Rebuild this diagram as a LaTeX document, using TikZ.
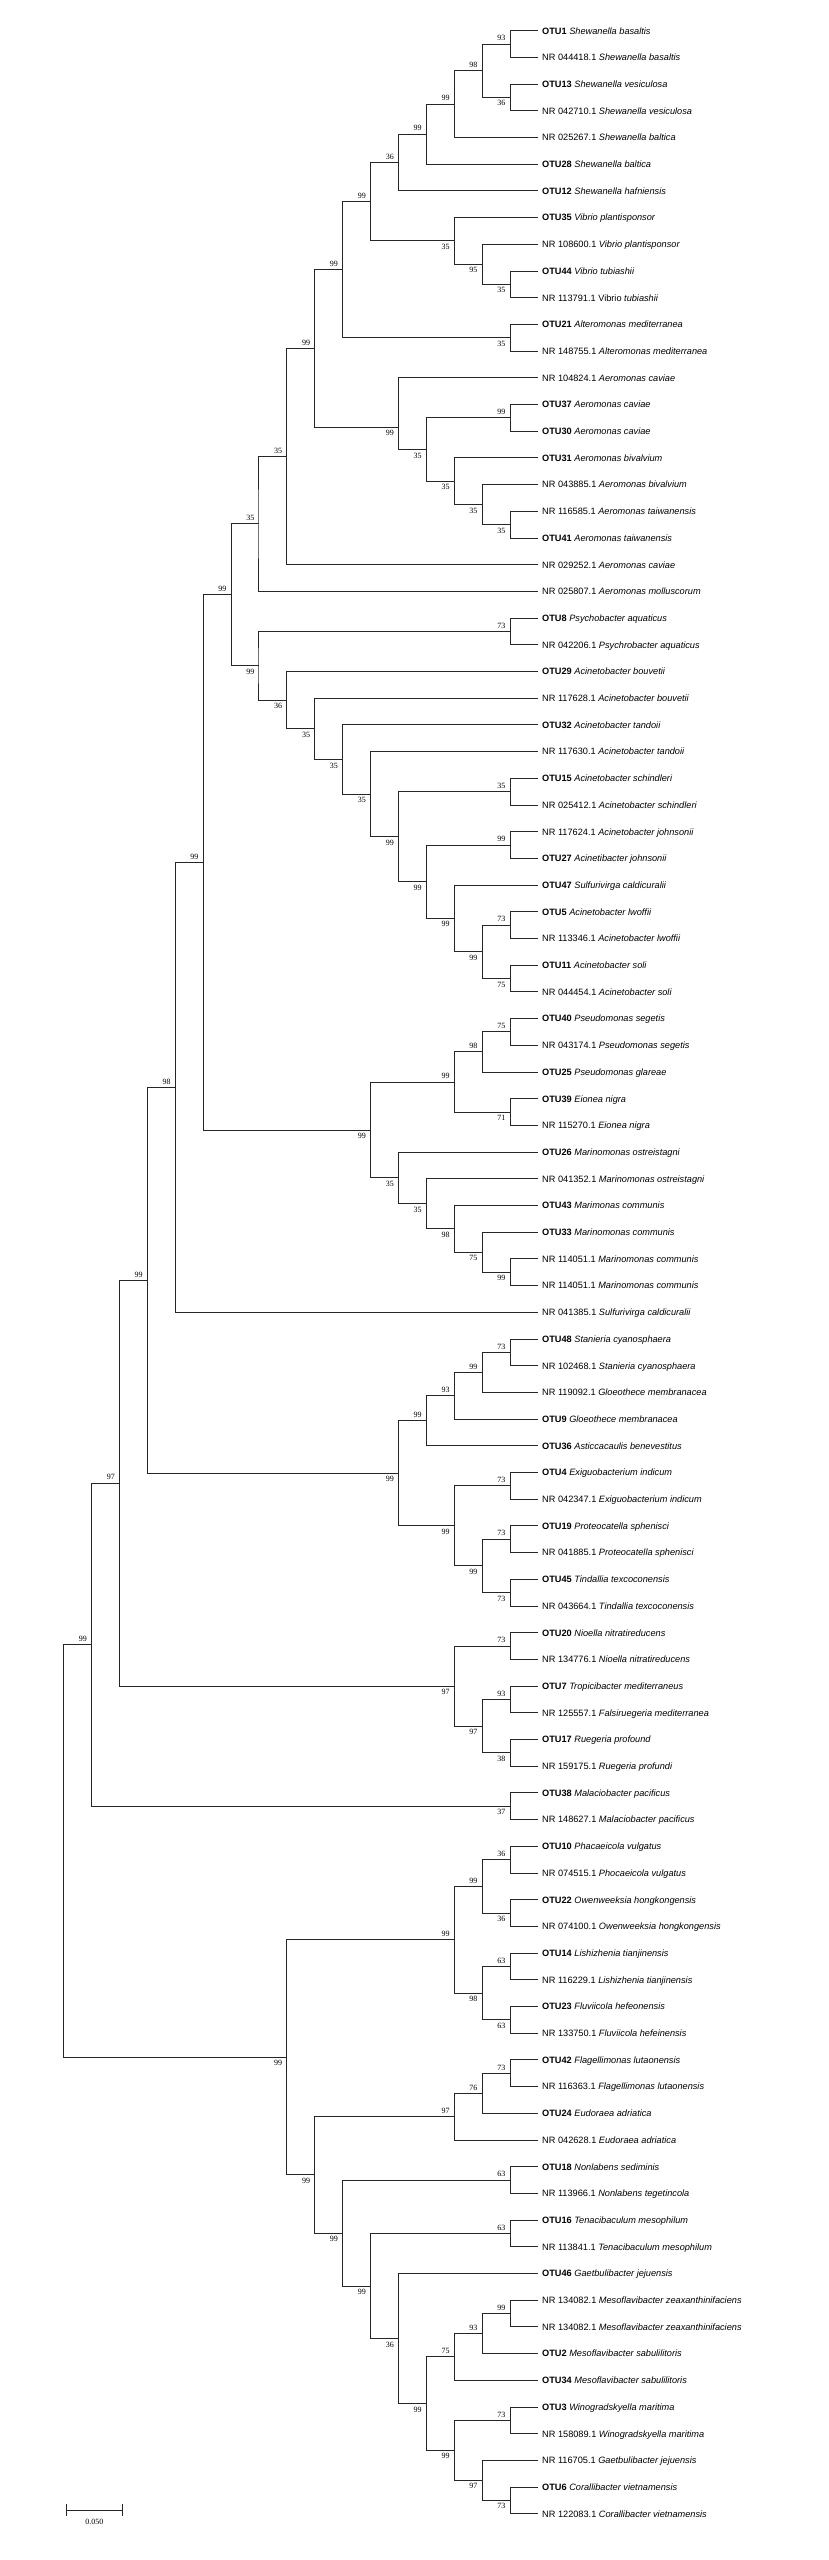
\documentclass[tikz,border=0pt]{standalone}
\usepackage{fontspec}
\setmainfont{Liberation Sans}
\newfontfamily\bsfont{Liberation Serif}
\usepackage{tikz}
\newcommand{\leaffont}{\fontsize{9.2}{11}\selectfont}
\newcommand{\numfont}{\bsfont\fontsize{8}{9}\selectfont}

\begin{document}
\begin{tikzpicture}[x=27.9pt, y=-26.7pt,
    branch/.style={line width=1pt, black!85},
    leaf/.style={anchor=west, inner xsep=4pt, inner ysep=0pt, text height=6.8pt, text depth=0.2pt, font=\leaffont},
    bsa/.style={anchor=south east, inner sep=0pt, xshift=-4.5pt, yshift=3pt, font=\numfont},
    bsb/.style={anchor=north east, inner sep=0pt, xshift=-4.5pt, yshift=-3pt, font=\numfont}]
    \useasboundingbox (-19.283,-0.150) rectangle (10.430,95.730);

    % Leaves
    \node[leaf] (l1) at (0,1) {\textbf{OTU1} \textit{Shewanella basaltis}};
    \node[leaf] (l2) at (0,2) {NR 044418.1 \textit{Shewanella basaltis}};
    \node[leaf] (l3) at (0,3) {\textbf{OTU13} \textit{Shewanella vesiculosa}};
    \node[leaf] (l4) at (0,4) {NR 042710.1 \textit{Shewanella vesiculosa}};
    \node[leaf] (l5) at (0,5) {NR 025267.1 \textit{Shewanella baltica}};
    \node[leaf] (l6) at (0,6) {\textbf{OTU28} \textit{Shewanella baltica}};
    \node[leaf] (l7) at (0,7) {\textbf{OTU12} \textit{Shewanella hafniensis}};
    \node[leaf] (l8) at (0,8) {\textbf{OTU35} \textit{Vibrio plantisponsor}};
    \node[leaf] (l9) at (0,9) {NR 108600.1 \textit{Vibrio plantisponsor}};
    \node[leaf] (l10) at (0,10) {\textbf{OTU44} \textit{Vibrio tubiashii}};
    \node[leaf] (l11) at (0,11) {NR 113791.1 Vibrio \textit{tubiashii}};
    \node[leaf] (l12) at (0,12) {\textbf{OTU21} \textit{Alteromonas mediterranea}};
    \node[leaf] (l13) at (0,13) {NR 148755.1 \textit{Alteromonas mediterranea}};
    \node[leaf] (l14) at (0,14) {NR 104824.1 \textit{Aeromonas caviae}};
    \node[leaf] (l15) at (0,15) {\textbf{OTU37} \textit{Aeromonas caviae}};
    \node[leaf] (l16) at (0,16) {\textbf{OTU30} \textit{Aeromonas caviae}};
    \node[leaf] (l17) at (0,17) {\textbf{OTU31} \textit{Aeromonas bivalvium}};
    \node[leaf] (l18) at (0,18) {NR 043885.1 \textit{Aeromonas bivalvium}};
    \node[leaf] (l19) at (0,19) {NR 116585.1 \textit{Aeromonas taiwanensis}};
    \node[leaf] (l20) at (0,20) {\textbf{OTU41} \textit{Aeromonas taiwanensis}};
    \node[leaf] (l21) at (0,21) {NR 029252.1 \textit{Aeromonas caviae}};
    \node[leaf] (l22) at (0,22) {NR 025807.1 \textit{Aeromonas molluscorum}};
    \node[leaf] (l23) at (0,23) {\textbf{OTU8} \textit{Psychobacter aquaticus}};
    \node[leaf] (l24) at (0,24) {NR 042206.1 \textit{Psychrobacter aquaticus}};
    \node[leaf] (l25) at (0,25) {\textbf{OTU29} \textit{Acinetobacter bouvetii}};
    \node[leaf] (l26) at (0,26) {NR 117628.1 \textit{Acinetobacter bouvetii}};
    \node[leaf] (l27) at (0,27) {\textbf{OTU32} \textit{Acinetobacter tandoii}};
    \node[leaf] (l28) at (0,28) {NR 117630.1 \textit{Acinetobacter tandoii}};
    \node[leaf] (l29) at (0,29) {\textbf{OTU15} \textit{Acinetobacter schindleri}};
    \node[leaf] (l30) at (0,30) {NR 025412.1 \textit{Acinetobacter schindleri}};
    \node[leaf] (l31) at (0,31) {NR 117624.1 \textit{Acinetobacter johnsonii}};
    \node[leaf] (l32) at (0,32) {\textbf{OTU27} \textit{Acinetibacter johnsonii}};
    \node[leaf] (l33) at (0,33) {\textbf{OTU47} \textit{Sulfurivirga caldicuralii}};
    \node[leaf] (l34) at (0,34) {\textbf{OTU5} \textit{Acinetobacter lwoffii}};
    \node[leaf] (l35) at (0,35) {NR 113346.1 \textit{Acinetobacter lwoffii}};
    \node[leaf] (l36) at (0,36) {\textbf{OTU11} \textit{Acinetobacter soli}};
    \node[leaf] (l37) at (0,37) {NR 044454.1 \textit{Acinetobacter soli}};
    \node[leaf] (l38) at (0,38) {\textbf{OTU40} \textit{Pseudomonas segetis}};
    \node[leaf] (l39) at (0,39) {NR 043174.1 \textit{Pseudomonas segetis}};
    \node[leaf] (l40) at (0,40) {\textbf{OTU25} \textit{Pseudomonas glareae}};
    \node[leaf] (l41) at (0,41) {\textbf{OTU39} \textit{Eionea nigra}};
    \node[leaf] (l42) at (0,42) {NR 115270.1 \textit{Eionea nigra}};
    \node[leaf] (l43) at (0,43) {\textbf{OTU26} \textit{Marinomonas ostreistagni}};
    \node[leaf] (l44) at (0,44) {NR 041352.1 \textit{Marinomonas ostreistagni}};
    \node[leaf] (l45) at (0,45) {\textbf{OTU43} \textit{Marimonas communis}};
    \node[leaf] (l46) at (0,46) {\textbf{OTU33} \textit{Marinomonas communis}};
    \node[leaf] (l47) at (0,47) {NR 114051.1 \textit{Marinomonas communis}};
    \node[leaf] (l48) at (0,48) {NR 114051.1 \textit{Marinomonas communis}};
    \node[leaf] (l49) at (0,49) {NR 041385.1 \textit{Sulfurivirga caldicuralii}};
    \node[leaf] (l50) at (0,50) {\textbf{OTU48} \textit{Stanieria cyanosphaera}};
    \node[leaf] (l51) at (0,51) {NR 102468.1 \textit{Stanieria cyanosphaera}};
    \node[leaf] (l52) at (0,52) {NR 119092.1 \textit{Gloeothece membranacea}};
    \node[leaf] (l53) at (0,53) {\textbf{OTU9} \textit{Gloeothece membranacea}};
    \node[leaf] (l54) at (0,54) {\textbf{OTU36} \textit{Asticcacaulis benevestitus}};
    \node[leaf] (l55) at (0,55) {\textbf{OTU4} \textit{Exiguobacterium indicum}};
    \node[leaf] (l56) at (0,56) {NR 042347.1 \textit{Exiguobacterium indicum}};
    \node[leaf] (l57) at (0,57) {\textbf{OTU19} \textit{Proteocatella sphenisci}};
    \node[leaf] (l58) at (0,58) {NR 041885.1 \textit{Proteocatella sphenisci}};
    \node[leaf] (l59) at (0,59) {\textbf{OTU45} \textit{Tindallia texcoconensis}};
    \node[leaf] (l60) at (0,60) {NR 043664.1 \textit{Tindallia texcoconensis}};
    \node[leaf] (l61) at (0,61) {\textbf{OTU20} \textit{Nioella nitratireducens}};
    \node[leaf] (l62) at (0,62) {NR 134776.1 \textit{Nioella nitratireducens}};
    \node[leaf] (l63) at (0,63) {\textbf{OTU7} \textit{Tropicibacter mediterraneus}};
    \node[leaf] (l64) at (0,64) {NR 125557.1 \textit{Falsiruegeria mediterranea}};
    \node[leaf] (l65) at (0,65) {\textbf{OTU17} \textit{Ruegeria profound}};
    \node[leaf] (l66) at (0,66) {NR 159175.1 \textit{Ruegeria profundi}};
    \node[leaf] (l67) at (0,67) {\textbf{OTU38} \textit{Malaciobacter pacificus}};
    \node[leaf] (l68) at (0,68) {NR 148627.1 \textit{Malaciobacter pacificus}};
    \node[leaf] (l69) at (0,69) {\textbf{OTU10} \textit{Phacaeicola vulgatus}};
    \node[leaf] (l70) at (0,70) {NR 074515.1 \textit{Phocaeicola vulgatus}};
    \node[leaf] (l71) at (0,71) {\textbf{OTU22} \textit{Owenweeksia hongkongensis}};
    \node[leaf] (l72) at (0,72) {NR 074100.1 \textit{Owenweeksia hongkongensis}};
    \node[leaf] (l73) at (0,73) {\textbf{OTU14} \textit{Lishizhenia tianjinensis}};
    \node[leaf] (l74) at (0,74) {NR 116229.1 \textit{Lishizhenia tianjinensis}};
    \node[leaf] (l75) at (0,75) {\textbf{OTU23} \textit{Fluviicola hefeonensis}};
    \node[leaf] (l76) at (0,76) {NR 133750.1 \textit{Fluviicola hefeinensis}};
    \node[leaf] (l77) at (0,77) {\textbf{OTU42} \textit{Flagellimonas lutaonensis}};
    \node[leaf] (l78) at (0,78) {NR 116363.1 \textit{Flagellimonas lutaonensis}};
    \node[leaf] (l79) at (0,79) {\textbf{OTU24} \textit{Eudoraea adriatica}};
    \node[leaf] (l80) at (0,80) {NR 042628.1 \textit{Eudoraea adriatica}};
    \node[leaf] (l81) at (0,81) {\textbf{OTU18} \textit{Nonlabens sediminis}};
    \node[leaf] (l82) at (0,82) {NR 113966.1 \textit{Nonlabens tegetincola}};
    \node[leaf] (l83) at (0,83) {\textbf{OTU16} \textit{Tenacibaculum mesophilum}};
    \node[leaf] (l84) at (0,84) {NR 113841.1 \textit{Tenacibaculum mesophilum}};
    \node[leaf] (l85) at (0,85) {\textbf{OTU46} \textit{Gaetbulibacter jejuensis}};
    \node[leaf] (l86) at (0,86) {NR 134082.1 \textit{Mesoflavibacter zeaxanthinifaciens}};
    \node[leaf] (l87) at (0,87) {NR 134082.1 \textit{Mesoflavibacter zeaxanthinifaciens}};
    \node[leaf] (l88) at (0,88) {\textbf{OTU2} \textit{Mesoflavibacter sabulilitoris}};
    \node[leaf] (l89) at (0,89) {\textbf{OTU34} \textit{Mesoflavibacter sabulilitoris}};
    \node[leaf] (l90) at (0,90) {\textbf{OTU3} \textit{Winogradskyella maritima}};
    \node[leaf] (l91) at (0,91) {NR 158089.1 \textit{Winogradskyella maritima}};
    \node[leaf] (l92) at (0,92) {NR 116705.1 \textit{Gaetbulibacter jejuensis}};
    \node[leaf] (l93) at (0,93) {\textbf{OTU6} \textit{Corallibacter vietnamensis}};
    \node[leaf] (l94) at (0,94) {NR 122083.1 \textit{Corallibacter vietnamensis}};

    % Shewanella
    \coordinate (a1) at (-1,1.5); \node[bsa] (ba1) at (a1) {93};
    \draw[branch] (l1.west) -| (a1) |- (l2.west);
    \coordinate (a2) at (-1,3.5); \node[bsb] (ba2) at (a2) {36};
    \draw[branch] (l3.west) -| (a2) |- (l4.west);
    \coordinate (a3) at (-2,2.5); \node[bsa] (ba3) at (a3) {98};
    \draw[branch] (a1) -| (a3) |- (a2);
    \coordinate (a4) at (-3,3.75); \node[bsa] (ba4) at (a4) {99};
    \draw[branch] (a3) -| (a4) |- (l5.west);
    \coordinate (a5) at (-4,4.875); \node[bsa] (ba5) at (a5) {99};
    \draw[branch] (a4) -| (a5) |- (l6.west);
    \coordinate (a6) at (-5,5.938); \node[bsa] (ba6) at (a6) {36};
    \draw[branch] (a5) -| (a6) |- (l7.west);

    % Vibrio
    \coordinate (b1) at (-1,10.5); \node[bsb] (bb1) at (b1) {35};
    \draw[branch] (l10.west) -| (b1) |- (l11.west);
    \coordinate (b2) at (-2,9.75); \node[bsb] (bb2) at (b2) {95};
    \draw[branch] (l9.west) -| (b2) |- (b1);
    \coordinate (b3) at (-3,8.875); \node[bsb] (bb3) at (b3) {35};
    \draw[branch] (l8.west) -| (b3) |- (b2);
    \coordinate (c1) at (-6,7.406); \node[bsa] (bc1) at (c1) {99};
    \draw[branch] (a6) -| (c1) |- (b3);

    % Alteromonas
    \coordinate (d1) at (-1,12.5); \node[bsb] (bd1) at (d1) {35};
    \draw[branch] (l12.west) -| (d1) |- (l13.west);
    \coordinate (c2) at (-7,9.953); \node[bsa] (bc2) at (c2) {99};
    \draw[branch] (c1) -| (c2) |- (d1);

    % Aeromonas
    \coordinate (e1) at (-1,15.5); \node[bsa] (be1) at (e1) {99};
    \draw[branch] (l15.west) -| (e1) |- (l16.west);
    \coordinate (e2) at (-1,19.5); \node[bsb] (be2) at (e2) {35};
    \draw[branch] (l19.west) -| (e2) |- (l20.west);
    \coordinate (e3) at (-2,18.75); \node[bsb] (be3) at (e3) {35};
    \draw[branch] (l18.west) -| (e3) |- (e2);
    \coordinate (e4) at (-3,17.875); \node[bsb] (be4) at (e4) {35};
    \draw[branch] (l17.west) -| (e4) |- (e3);
    \coordinate (e5) at (-4,16.688); \node[bsb] (be5) at (e5) {35};
    \draw[branch] (e1) -| (e5) |- (e4);
    \coordinate (e6) at (-5,15.844); \node[bsb] (be6) at (e6) {99};
    \draw[branch] (l14.west) -| (e6) |- (e5);
    \coordinate (c3) at (-8,12.898); \node[bsa] (bc3) at (c3) {99};
    \draw[branch] (c2) -| (c3) |- (e6);
    \coordinate (c4) at (-9,16.949); \node[bsa] (bc4) at (c4) {35};
    \draw[branch] (c3) -| (c4) |- (l21.west);
    \coordinate (c5) at (-10,19.475); \node[bsa] (bc5) at (c5) {35};
    \draw[branch] (c4) -| (c5) |- (l22.west);

    % Psychrobacter and Acinetobacter
    \coordinate (f1) at (-1,23.5); \node[bsa] (bf1) at (f1) {73};
    \draw[branch] (l23.west) -| (f1) |- (l24.west);
    \coordinate (g1) at (-1,29.5); \node[bsa] (bg1) at (g1) {35};
    \draw[branch] (l29.west) -| (g1) |- (l30.west);
    \coordinate (g2) at (-1,31.5); \node[bsa] (bg2) at (g2) {99};
    \draw[branch] (l31.west) -| (g2) |- (l32.west);
    \coordinate (g3) at (-1,34.5); \node[bsa] (bg3) at (g3) {73};
    \draw[branch] (l34.west) -| (g3) |- (l35.west);
    \coordinate (g4) at (-1,36.5); \node[bsb] (bg4) at (g4) {75};
    \draw[branch] (l36.west) -| (g4) |- (l37.west);
    \coordinate (g5) at (-2,35.5); \node[bsb] (bg5) at (g5) {99};
    \draw[branch] (g3) -| (g5) |- (g4);
    \coordinate (g6) at (-3,34.25); \node[bsb] (bg6) at (g6) {99};
    \draw[branch] (l33.west) -| (g6) |- (g5);
    \coordinate (g7) at (-4,32.875); \node[bsb] (bg7) at (g7) {99};
    \draw[branch] (g2) -| (g7) |- (g6);
    \coordinate (g8) at (-5,31.188); \node[bsb] (bg8) at (g8) {99};
    \draw[branch] (g1) -| (g8) |- (g7);
    \coordinate (g9) at (-6,29.594); \node[bsb] (bg9) at (g9) {35};
    \draw[branch] (l28.west) -| (g9) |- (g8);
    \coordinate (g10) at (-7,28.297); \node[bsb] (bg10) at (g10) {35};
    \draw[branch] (l27.west) -| (g10) |- (g9);
    \coordinate (g11) at (-8,27.148); \node[bsb] (bg11) at (g11) {35};
    \draw[branch] (l26.west) -| (g11) |- (g10);
    \coordinate (g12) at (-9,26.074); \node[bsb] (bg12) at (g12) {36};
    \draw[branch] (l25.west) -| (g12) |- (g11);
    \coordinate (f2) at (-10,24.787); \node[bsb] (bf2) at (f2) {99};
    \draw[branch] (f1) -| (f2) |- (g12);
    \coordinate (c6) at (-11,22.131); \node[bsa] (bc6) at (c6) {99};
    \draw[branch] (c5) -| (c6) |- (f2);

    % Pseudomonas, Eionea and Marinomonas
    \coordinate (p1) at (-1,38.5); \node[bsa] (bp1) at (p1) {75};
    \draw[branch] (l38.west) -| (p1) |- (l39.west);
    \coordinate (p2) at (-2,39.25); \node[bsa] (bp2) at (p2) {98};
    \draw[branch] (p1) -| (p2) |- (l40.west);
    \coordinate (p3) at (-1,41.5); \node[bsb] (bp3) at (p3) {71};
    \draw[branch] (l41.west) -| (p3) |- (l42.west);
    \coordinate (p4) at (-3,40.375); \node[bsa] (bp4) at (p4) {99};
    \draw[branch] (p2) -| (p4) |- (p3);
    \coordinate (m1) at (-1,47.5); \node[bsb] (bm1) at (m1) {99};
    \draw[branch] (l47.west) -| (m1) |- (l48.west);
    \coordinate (m2) at (-2,46.75); \node[bsb] (bm2) at (m2) {75};
    \draw[branch] (l46.west) -| (m2) |- (m1);
    \coordinate (m3) at (-3,45.875); \node[bsb] (bm3) at (m3) {98};
    \draw[branch] (l45.west) -| (m3) |- (m2);
    \coordinate (m4) at (-4,44.938); \node[bsb] (bm4) at (m4) {35};
    \draw[branch] (l44.west) -| (m4) |- (m3);
    \coordinate (m5) at (-5,43.969); \node[bsb] (bm5) at (m5) {35};
    \draw[branch] (l43.west) -| (m5) |- (m4);
    \coordinate (p5) at (-6,42.172); \node[bsb] (bp5) at (p5) {99};
    \draw[branch] (p4) -| (p5) |- (m5);
    \coordinate (c7) at (-12,32.151); \node[bsa] (bc7) at (c7) {99};
    \draw[branch] (c6) -| (c7) |- (p5);
    \coordinate (c8) at (-13,40.576); \node[bsa] (bc8) at (c8) {98};
    \draw[branch] (c7) -| (c8) |- (l49.west);

    % Cyanobacteria and Firmicutes
    \coordinate (s1) at (-1,50.5); \node[bsa] (bs1) at (s1) {73};
    \draw[branch] (l50.west) -| (s1) |- (l51.west);
    \coordinate (s2) at (-2,51.25); \node[bsa] (bs2) at (s2) {99};
    \draw[branch] (s1) -| (s2) |- (l52.west);
    \coordinate (s3) at (-3,52.125); \node[bsa] (bs3) at (s3) {93};
    \draw[branch] (s2) -| (s3) |- (l53.west);
    \coordinate (s4) at (-4,53.063); \node[bsa] (bs4) at (s4) {99};
    \draw[branch] (s3) -| (s4) |- (l54.west);
    \coordinate (t1) at (-1,55.5); \node[bsa] (bt1) at (t1) {73};
    \draw[branch] (l55.west) -| (t1) |- (l56.west);
    \coordinate (t2) at (-1,57.5); \node[bsa] (bt2) at (t2) {73};
    \draw[branch] (l57.west) -| (t2) |- (l58.west);
    \coordinate (t3) at (-1,59.5); \node[bsb] (bt3) at (t3) {73};
    \draw[branch] (l59.west) -| (t3) |- (l60.west);
    \coordinate (t4) at (-2,58.5); \node[bsb] (bt4) at (t4) {99};
    \draw[branch] (t2) -| (t4) |- (t3);
    \coordinate (t5) at (-3,57); \node[bsb] (bt5) at (t5) {99};
    \draw[branch] (t1) -| (t5) |- (t4);
    \coordinate (s5) at (-5,55.031); \node[bsb] (bs5) at (s5) {99};
    \draw[branch] (s4) -| (s5) |- (t5);
    \coordinate (c9) at (-14,47.803); \node[bsa] (bc9) at (c9) {99};
    \draw[branch] (c8) -| (c9) |- (s5);

    % Roseobacter group
    \coordinate (r1) at (-1,61.5); \node[bsa] (br1) at (r1) {73};
    \draw[branch] (l61.west) -| (r1) |- (l62.west);
    \coordinate (r2) at (-1,63.5); \node[bsa] (br2) at (r2) {93};
    \draw[branch] (l63.west) -| (r2) |- (l64.west);
    \coordinate (r3) at (-1,65.5); \node[bsb] (br3) at (r3) {38};
    \draw[branch] (l65.west) -| (r3) |- (l66.west);
    \coordinate (r4) at (-2,64.5); \node[bsb] (br4) at (r4) {97};
    \draw[branch] (r2) -| (r4) |- (r3);
    \coordinate (r5) at (-3,63); \node[bsb] (br5) at (r5) {97};
    \draw[branch] (r1) -| (r5) |- (r4);
    \coordinate (c10) at (-15,55.402); \node[bsa] (bc10) at (c10) {97};
    \draw[branch] (c9) -| (c10) |- (r5);

    % Malaciobacter
    \coordinate (k1) at (-1,67.5); \node[bsb] (bk1) at (k1) {37};
    \draw[branch] (l67.west) -| (k1) |- (l68.west);
    \coordinate (c11) at (-16,61.451); \node[bsa] (bc11) at (c11) {99};
    \draw[branch] (c10) -| (c11) |- (k1);

    % Bacteroidetes
    \coordinate (q1) at (-1,69.5); \node[bsa] (bq1) at (q1) {36};
    \draw[branch] (l69.west) -| (q1) |- (l70.west);
    \coordinate (q2) at (-1,71.5); \node[bsb] (bq2) at (q2) {36};
    \draw[branch] (l71.west) -| (q2) |- (l72.west);
    \coordinate (q3) at (-2,70.5); \node[bsa] (bq3) at (q3) {99};
    \draw[branch] (q1) -| (q3) |- (q2);
    \coordinate (q4) at (-1,73.5); \node[bsa] (bq4) at (q4) {63};
    \draw[branch] (l73.west) -| (q4) |- (l74.west);
    \coordinate (q5) at (-1,75.5); \node[bsb] (bq5) at (q5) {63};
    \draw[branch] (l75.west) -| (q5) |- (l76.west);
    \coordinate (q6) at (-2,74.5); \node[bsb] (bq6) at (q6) {98};
    \draw[branch] (q4) -| (q6) |- (q5);
    \coordinate (q7) at (-3,72.5); \node[bsa] (bq7) at (q7) {99};
    \draw[branch] (q3) -| (q7) |- (q6);
    \coordinate (u1) at (-1,77.5); \node[bsa] (bu1) at (u1) {73};
    \draw[branch] (l77.west) -| (u1) |- (l78.west);
    \coordinate (u2) at (-2,78.25); \node[bsa] (bu2) at (u2) {76};
    \draw[branch] (u1) -| (u2) |- (l79.west);
    \coordinate (u3) at (-3,79.125); \node[bsa] (bu3) at (u3) {97};
    \draw[branch] (u2) -| (u3) |- (l80.west);
    \coordinate (v1) at (-1,81.5); \node[bsa] (bv1) at (v1) {63};
    \draw[branch] (l81.west) -| (v1) |- (l82.west);
    \coordinate (w1) at (-1,83.5); \node[bsa] (bw1) at (w1) {63};
    \draw[branch] (l83.west) -| (w1) |- (l84.west);
    \coordinate (x1) at (-1,86.5); \node[bsa] (bx1) at (x1) {99};
    \draw[branch] (l86.west) -| (x1) |- (l87.west);
    \coordinate (x2) at (-2,87.25); \node[bsa] (bx2) at (x2) {93};
    \draw[branch] (x1) -| (x2) |- (l88.west);
    \coordinate (x3) at (-3,88.125); \node[bsa] (bx3) at (x3) {75};
    \draw[branch] (x2) -| (x3) |- (l89.west);
    \coordinate (y1) at (-1,90.5); \node[bsa] (by1) at (y1) {73};
    \draw[branch] (l90.west) -| (y1) |- (l91.west);
    \coordinate (y2) at (-1,93.5); \node[bsb] (by2) at (y2) {73};
    \draw[branch] (l93.west) -| (y2) |- (l94.west);
    \coordinate (y3) at (-2,92.75); \node[bsb] (by3) at (y3) {97};
    \draw[branch] (l92.west) -| (y3) |- (y2);
    \coordinate (y4) at (-3,91.625); \node[bsb] (by4) at (y4) {99};
    \draw[branch] (y1) -| (y4) |- (y3);
    \coordinate (x4) at (-4,89.875); \node[bsb] (bx4) at (x4) {99};
    \draw[branch] (x3) -| (x4) |- (y4);
    \coordinate (x5) at (-5,87.438); \node[bsb] (bx5) at (x5) {36};
    \draw[branch] (l85.west) -| (x5) |- (x4);
    \coordinate (w2) at (-6,85.469); \node[bsb] (bw2) at (w2) {99};
    \draw[branch] (w1) -| (w2) |- (x5);
    \coordinate (v2) at (-7,83.484); \node[bsb] (bv2) at (v2) {99};
    \draw[branch] (v1) -| (v2) |- (w2);
    \coordinate (u4) at (-8,81.305); \node[bsb] (bu4) at (u4) {99};
    \draw[branch] (u3) -| (u4) |- (v2);
    \coordinate (q8) at (-9,76.902); \node[bsb] (bq8) at (q8) {99};
    \draw[branch] (q7) -| (q8) |- (u4);

    % Root
    \coordinate (root) at (-17,69.177);
    \draw[branch] (c11) -| (root) |- (q8);

    % Scale bar
    \coordinate (sbl) at (-16.9,93.86);
    \coordinate (sbr) at (-14.9,93.86);
    \coordinate (sbm) at (-15.9,93.86);
    \draw[branch] (sbl) -- (sbr);
    \draw[branch] ([yshift=6pt]sbl) -- ([yshift=-6pt]sbl);
    \draw[branch] ([yshift=6pt]sbr) -- ([yshift=-6pt]sbr);
    \node[anchor=north, inner sep=0pt, yshift=-9pt, font=\numfont] (sbtext) at (sbm) {0.050};
\end{tikzpicture}
\end{document}
